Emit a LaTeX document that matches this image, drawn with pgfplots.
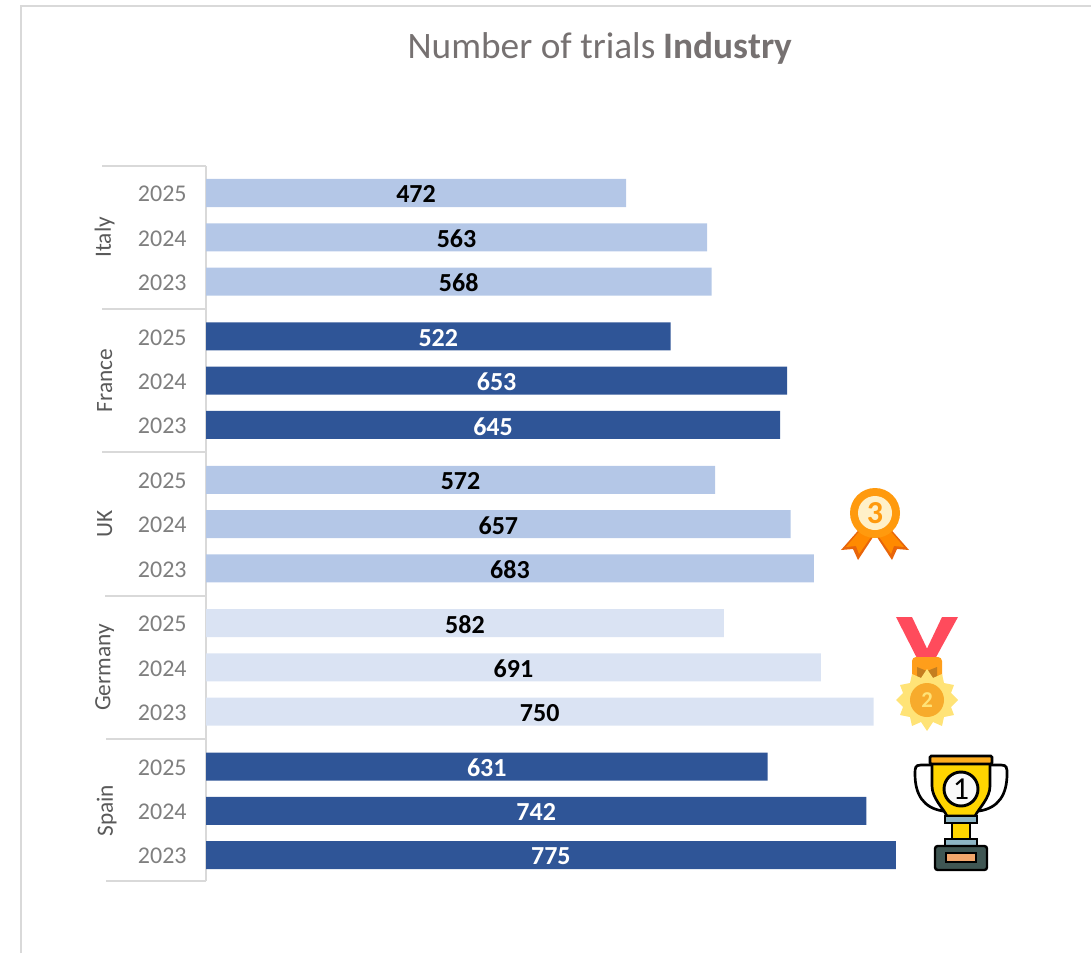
\documentclass[border=0pt]{standalone}
\usepackage{fontspec}
\setmainfont{Carlito}
\usepackage{pgfplots}
\usepackage{pgfplotstable}
\pgfplotsset{compat=1.18}
\definecolor{midblue}{HTML}{B4C7E7}
\definecolor{darkblue}{HTML}{2F5597}
\definecolor{paleblue}{HTML}{DAE3F3}
\definecolor{axisgray}{HTML}{D9D9D9}
\definecolor{yeargray}{HTML}{7F7F7F}
\definecolor{catgray}{HTML}{595959}
\definecolor{titlegray}{HTML}{767171}
\definecolor{frontred}{HTML}{FF4B5C}
\definecolor{bronze}{HTML}{FF9A0E}
\definecolor{bronzedark}{HTML}{E8650A}
\definecolor{bronzemid}{HTML}{FF8A00}
\definecolor{cream}{HTML}{FFF0C8}
\definecolor{silver}{HTML}{FFE377}
\definecolor{silvermid}{HTML}{F7AB2C}
\definecolor{clasp}{HTML}{FF9E1B}
\definecolor{claspdark}{HTML}{C47E20}
\definecolor{cupgold}{HTML}{FFD500}
\definecolor{cupedge}{HTML}{FFAE1F}
\definecolor{stem}{HTML}{8DB5C4}
\definecolor{basedark}{HTML}{3F5653}
\definecolor{plate}{HTML}{F2A66B}

\pgfplotstableread{
y v
0.00 775
1.00 742
2.00 631
}\spain
\pgfplotstableread{
y v
3.24 750
4.24 691
5.24 582
}\germany
\pgfplotstableread{
y v
6.48 683
7.48 657
8.48 572
}\uk
\pgfplotstableread{
y v
9.72 645
10.72 653
11.72 522
}\france
\pgfplotstableread{
y v
12.96 568
13.96 563
14.96 472
}\italy

\pgfplotsset{
  bars/.style={xbar,bar shift=0pt,bar width=21pt,draw=none,fill=#1,forget plot},
  vals/.style={only marks,mark=none,forget plot,point meta=explicit symbolic,
    nodes near coords,nodes near coords align={center},
    every node near coord/.style={font=\fontsize{19.5}{20}\selectfont\bfseries,text=#1,inner sep=0pt,yshift=-1pt}},
}

\begin{document}
\begin{tikzpicture}
% page size, 1 reference pixel = 0.75pt
\path[use as bounding box] (0,0) rectangle (818.25pt,-714.75pt);

\begin{axis}[
  at={(154.5pt,-660.75pt)},anchor=south west,
  scale only axis,width=534pt,height=536.25pt,
  xmin=0,xmax=800,ymin=-0.587,ymax=15.57,
  axis x line=none,axis y line*=left,
  axis line style={axisgray,line width=1.5pt,-},
  major tick length=0pt,
  ytick={0,1,2,3.24,4.24,5.24,6.48,7.48,8.48,9.72,10.72,11.72,12.96,13.96,14.96},
  yticklabels={2023,2024,2025,2023,2024,2025,2023,2024,2025,2023,2024,2025,2023,2024,2025},
  y tick label style={font=\fontsize{18}{18}\selectfont,text=yeargray},
  yticklabel style={xshift=-11pt,yshift=-0.8pt},
  clip=false,
]
\addplot[bars=darkblue] table[x=v,y=y]{\spain};
\addplot[bars=paleblue] table[x=v,y=y]{\germany};
\addplot[bars=midblue] table[x=v,y=y]{\uk};
\addplot[bars=darkblue] table[x=v,y=y]{\france};
\addplot[bars=midblue] table[x=v,y=y]{\italy};

\addplot[vals=white] table[x expr=\thisrow{v}/2,y=y,meta=v]{\spain};
\addplot[vals=black] table[x expr=\thisrow{v}/2,y=y,meta=v]{\germany};
\addplot[vals=black] table[x expr=\thisrow{v}/2,y=y,meta=v]{\uk};
\addplot[vals=white] table[x expr=\thisrow{v}/2,y=y,meta=v]{\france};
\addplot[vals=black] table[x expr=\thisrow{v}/2,y=y,meta=v]{\italy};

% group separators and names
\foreach \yy/\len in {-0.587/-75pt,2.62/-75pt,5.86/-76pt,9.10/-78pt,12.34/-78pt,15.57/-78pt}{
  \edef\temp{\noexpand\draw[axisgray,line width=1.5pt] (axis cs:0,\yy) -- ++(\len,0pt);}
  \temp
}
\foreach \yy/\nm/\dx in {1/Spain/-74.5pt,4.24/Germany/-76pt,7.48/UK/-76pt,10.72/France/-76pt,13.96/Italy/-76pt}{
  \edef\temp{\noexpand\node[rotate=90,text=catgray,font=\noexpand\fontsize{17.5}{18}\noexpand\selectfont,inner sep=0pt] at ([xshift=\dx]axis cs:0,\yy) {\nm};}
  \temp
}
\end{axis}

\begin{scope}[x=0.75pt,y=-0.75pt]
% outer chart frame
\draw[axisgray,line width=1.5pt] (20.5,953) -- (20.5,5.5) -- (1091,5.5);
\node[anchor=center,text=titlegray,font=\fontsize{28}{32}\selectfont] at (600,48)
  {Number of trials \textbf{Industry}};

% third place rosette
\begin{scope}[shift={(875,513)}]
  \fill[bronzedark] (-12,12) -- (-34,37) -- (-22,36) -- (-17,47) -- (2,18) -- cycle;
  \fill[bronzedark] (12,12) -- (34,37) -- (22,36) -- (17,47) -- (-2,18) -- cycle;
  \fill[bronzemid] (-12,14) -- (-29,34) -- (-19,33) -- (-16,41) -- (0,18) -- cycle;
  \fill[bronzemid] (12,14) -- (29,34) -- (19,33) -- (16,41) -- (0,18) -- cycle;
  \fill[bronze] (0,0) circle[radius=25];
  \fill[cream] (0,0) circle[radius=17];
  \node[text=bronze,font=\fontsize{24}{24}\selectfont\bfseries] at (0,0) {3};
\end{scope}

% second place medal
\begin{scope}[shift={(927,700)}]
  \fill[frontred] (-31,-83) -- (-15,-83) -- (4,-43) -- (-4,-30) -- cycle;
  \fill[frontred] (31,-83) -- (15,-83) -- (-4,-43) -- (-4,-30) -- (2,-30) -- cycle;
  \fill[clasp,rounded corners=3] (-15,-43) rectangle (15,-20);
  \fill[claspdark] (-10,-33) -- (0,-29) -- (10,-33) -- (10,-22) -- (-10,-22) -- cycle;
  \fill[silver] (0,-31) -- (6,-22) -- (15,-26) -- (17,-17) -- (27,-15) -- (24,-7) -- (31,0)
    -- (24,7) -- (27,15) -- (17,17) -- (15,26) -- (6,22) -- (0,31) -- (-6,22) -- (-15,26)
    -- (-17,17) -- (-27,15) -- (-24,7) -- (-31,0) -- (-24,-7) -- (-27,-15) -- (-17,-17)
    -- (-15,-26) -- (-6,-22) -- cycle;
  \fill[silvermid] (0,0) circle[radius=17];
  \node[text=silver,font=\fontsize{17}{17}\selectfont\bfseries] at (0,0) {2};
\end{scope}

% first place trophy
\begin{scope}[shift={(961,756)}]
  \draw[black,line width=2pt] (-30,9) -- (-40,9) .. controls (-46,9) and (-46,12) .. (-46,18)
    .. controls (-46,38) and (-38,52) .. (-18,55);
  \draw[black,line width=2pt] (30,9) -- (40,9) .. controls (46,9) and (46,12) .. (46,18)
    .. controls (46,38) and (38,52) .. (18,55);
  \fill[cupgold,draw=black,line width=2pt] (-29,5) -- (29,5) -- (29,30) .. controls (29,42) and (18,52) .. (14,60)
    -- (-14,60) .. controls (-18,52) and (-29,42) .. (-29,30) -- cycle;
  \fill[cupedge,draw=black,line width=2pt,rounded corners=1] (-31,0) rectangle (31,8);
  \fill[white!95!gray,draw=black,line width=2.2pt] (0,33) circle[radius=17];
  \node[text=black,font=\fontsize{24}{24}\selectfont] at (0,33) {1};
  \fill[stem,draw=black,line width=1.8pt] (-16,60) rectangle (16,67);
  \fill[cupgold,draw=black,line width=1.8pt] (-9,67) rectangle (9,83);
  \fill[stem,draw=black,line width=1.8pt] (-16,83) rectangle (16,90);
  \fill[basedark,draw=black,line width=1.8pt,rounded corners=2] (-26,90) rectangle (26,114);
  \fill[plate,draw=black,line width=1.5pt] (-15,97) rectangle (15,106);
\end{scope}
\end{scope}
\end{tikzpicture}
\end{document}
